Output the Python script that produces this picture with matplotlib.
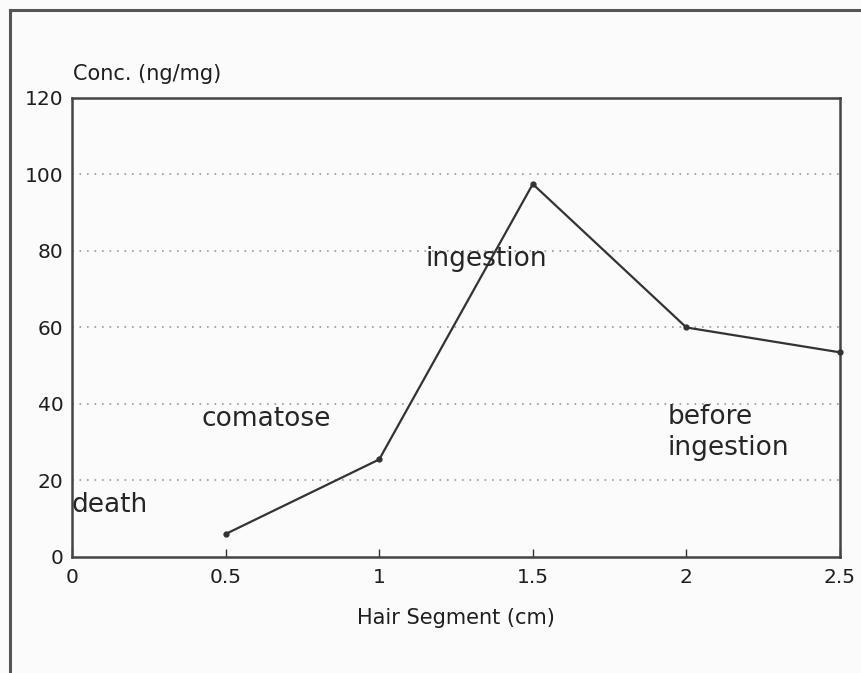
import matplotlib
matplotlib.use("Agg")
import matplotlib.pyplot as plt
from matplotlib.lines import Line2D

# ── Data ─────────────────────────────────────────────────────────────────────
segment_cm = [0.5, 1.0, 1.5, 2.0, 2.5]
conc_ng_mg = [6.0, 25.5, 97.5, 60.0, 53.5]

x_ticks = [0, 0.5, 1, 1.5, 2, 2.5]
x_tick_labels = ["0", "0.5", "1", "1.5", "2", "2.5"]
y_ticks = [0, 20, 40, 60, 80, 100, 120]

notes = ["death", "comatose", "ingestion", "before\ningestion"]
note_x = [0.0, 0.42, 1.15, 1.94]
note_y = [13.5, 36.0, 78.0, 32.5]

plt.rcParams["font.family"] = ["DejaVu Sans"]
INK = "#333333"

fig = plt.figure(figsize=(8.61, 6.73), dpi=100, facecolor="#fbfbfb")
ax = fig.add_axes([0.0836, 0.1724, 0.892, 0.682])
ax.set_facecolor("#fbfbfb")

# outer frame: only top and left edges are visible in the scan
fig.add_artist(Line2D([0.0116, 0.0116], [0.0, 0.985], color="#555555",
                      lw=2.2, transform=fig.transFigure))
fig.add_artist(Line2D([0.0116, 1.0], [0.985, 0.985], color="#555555",
                      lw=2.2, transform=fig.transFigure))

ax.plot(segment_cm, conc_ng_mg, color=INK, lw=1.6, marker="o", ms=3.5,
        zorder=4, clip_on=False)

ax.set_xlim(0, 2.5)
ax.set_ylim(0, 120)
ax.set_xticks(x_ticks)
ax.set_xticklabels(x_tick_labels)
ax.set_yticks(y_ticks)
ax.tick_params(axis="x", direction="in", length=6, width=1, color=INK,
               labelsize=14.5, labelcolor="#1e1e1e", pad=8)
ax.tick_params(axis="y", length=0, labelsize=14.5, labelcolor="#1e1e1e", pad=6)

for yv in y_ticks[1:-1]:
    ax.axhline(yv, color="#999999", lw=1.2, ls=(0, (1, 3.5)), zorder=1)

for sp in ax.spines.values():
    sp.set_color("#444444")
    sp.set_linewidth(1.8)

for txt, tx, ty in zip(notes, note_x, note_y):
    ax.text(tx, ty, txt, fontsize=19, color="#262626", ha="left",
            va="center", linespacing=1.25, zorder=5)

ax.set_xlabel("Hair Segment (cm)", fontsize=15, color="#1e1e1e", labelpad=15)
fig.text(0.085, 0.890, "Conc. (ng/mg)", fontsize=15, color="#1e1e1e",
         ha="left", va="center")

fig.savefig("out.png", dpi=100, facecolor=fig.get_facecolor())
